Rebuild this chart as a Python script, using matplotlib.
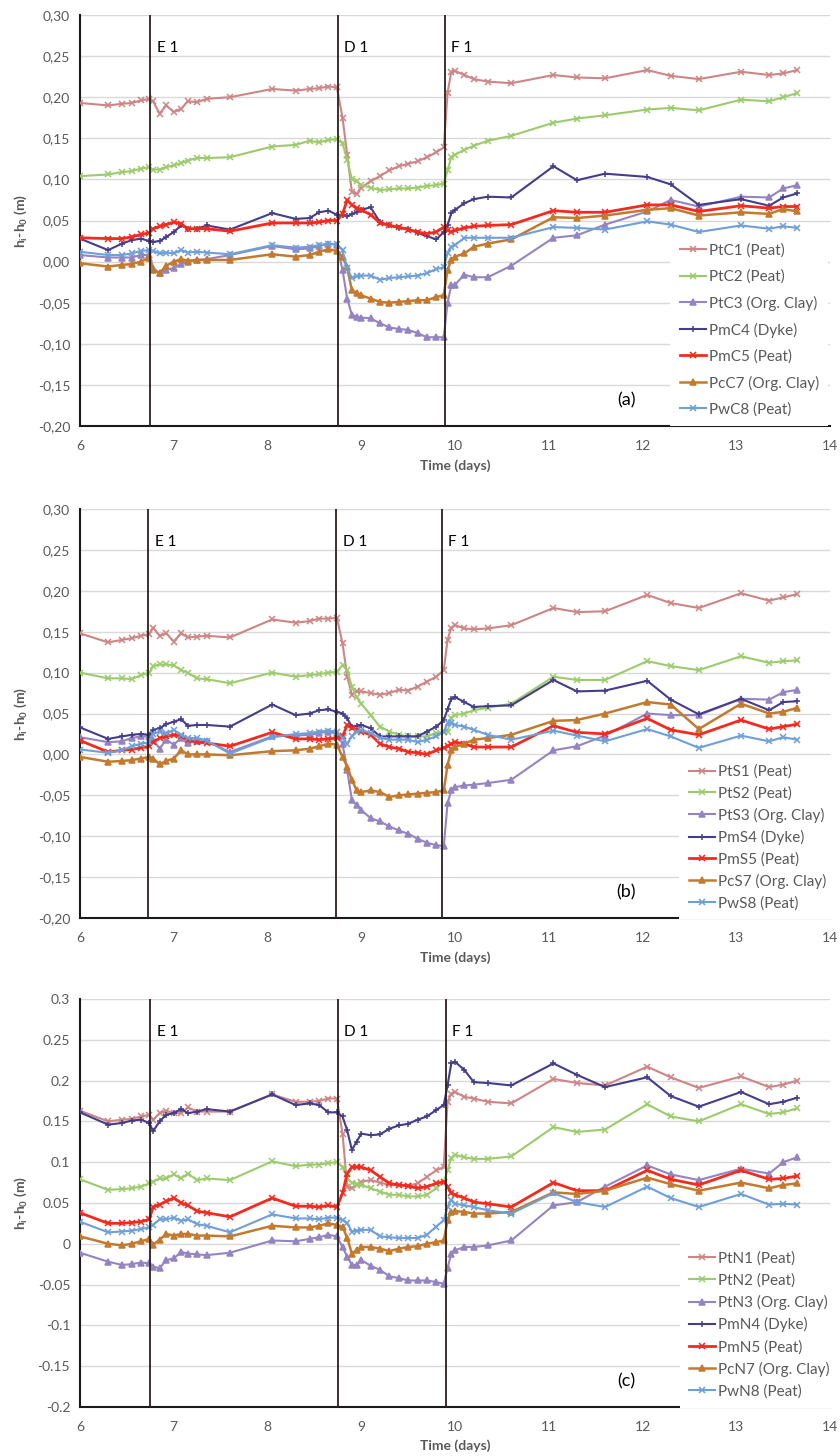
import matplotlib
matplotlib.use("Agg")
import matplotlib.pyplot as plt
from matplotlib.ticker import FuncFormatter, MultipleLocator

plt.rcParams['font.family'] = ['Lato', 'DejaVu Sans']

# time of each reading (days)
days = [6.0, 6.3, 6.45, 6.55, 6.65, 6.74, 6.78, 6.85, 6.92, 7.0, 7.08, 7.15, 7.25, 7.35, 7.6,
        8.05, 8.3, 8.45, 8.55, 8.65, 8.74, 8.8, 8.85, 8.9, 8.95, 9.0, 9.1, 9.2, 9.3, 9.4, 9.5,
        9.6, 9.7, 9.8, 9.88, 9.92, 9.96, 10.0, 10.1, 10.2, 10.35, 10.6, 11.05, 11.3, 11.6,
        12.05, 12.3, 12.6, 13.05, 13.35, 13.5, 13.65]

# (a)
labels_a = ['PtC1 (Peat)', 'PtC2 (Peat)', 'PtC3 (Org. Clay)', 'PmC4 (Dyke)',
            'PmC5 (Peat)', 'PcC7 (Org. Clay)', 'PwC8 (Peat)']
ptc1 = [0.193, 0.190, 0.192, 0.193, 0.196, 0.198, 0.195, 0.180, 0.190, 0.182, 0.186, 0.195, 0.194,
        0.198, 0.200, 0.210, 0.208, 0.210, 0.211, 0.213, 0.212, 0.175, 0.130, 0.085, 0.082, 0.090,
        0.098, 0.104, 0.111, 0.116, 0.119, 0.122, 0.127, 0.133, 0.139, 0.205, 0.231, 0.232, 0.227,
        0.222, 0.219, 0.217, 0.227, 0.224, 0.223, 0.233, 0.226, 0.222, 0.231, 0.227, 0.229, 0.233]
ptc2 = [0.104, 0.106, 0.109, 0.110, 0.113, 0.115, 0.112, 0.112, 0.115, 0.117, 0.120, 0.123, 0.126,
        0.126, 0.127, 0.140, 0.142, 0.147, 0.145, 0.148, 0.149, 0.144, 0.124, 0.100, 0.098, 0.093,
        0.090, 0.087, 0.088, 0.089, 0.089, 0.090, 0.092, 0.093, 0.095, 0.111, 0.127, 0.130, 0.136,
        0.141, 0.147, 0.153, 0.169, 0.174, 0.178, 0.185, 0.187, 0.184, 0.197, 0.195, 0.200, 0.205]
ptc3 = [0.008, 0.005, 0.005, 0.005, 0.008, 0.008, -0.008, -0.014, -0.010, -0.008, -0.003, 0.000,
        0.002, 0.003, 0.008, 0.019, 0.015, 0.016, 0.019, 0.022, 0.020, -0.010, -0.045, -0.065,
        -0.067, -0.068, -0.069, -0.075, -0.080, -0.082, -0.083, -0.087, -0.092, -0.092, -0.092,
        -0.050, -0.029, -0.028, -0.016, -0.019, -0.019, -0.005, 0.029, 0.032, 0.045, 0.061, 0.075,
        0.067, 0.079, 0.078, 0.089, 0.093]
pmc4 = [0.028, 0.014, 0.022, 0.026, 0.028, 0.025, 0.024, 0.025, 0.030, 0.036, 0.044, 0.040, 0.040,
        0.044, 0.039, 0.059, 0.052, 0.053, 0.060, 0.062, 0.057, 0.057, 0.055, 0.058, 0.060, 0.063,
        0.066, 0.048, 0.044, 0.041, 0.040, 0.035, 0.031, 0.027, 0.036, 0.044, 0.059, 0.063, 0.071,
        0.076, 0.079, 0.078, 0.116, 0.099, 0.107, 0.103, 0.094, 0.069, 0.076, 0.068, 0.078, 0.083]
pmc5 = [0.029, 0.028, 0.028, 0.030, 0.033, 0.035, 0.040, 0.043, 0.045, 0.048, 0.046, 0.040, 0.040,
        0.040, 0.037, 0.047, 0.047, 0.047, 0.048, 0.050, 0.050, 0.058, 0.075, 0.069, 0.065, 0.063,
        0.057, 0.047, 0.044, 0.042, 0.039, 0.036, 0.034, 0.036, 0.042, 0.038, 0.036, 0.038, 0.041,
        0.043, 0.044, 0.045, 0.062, 0.060, 0.060, 0.069, 0.069, 0.061, 0.068, 0.065, 0.067, 0.067]
pcc7 = [-0.002, -0.006, -0.004, -0.003, 0.000, 0.005, -0.010, -0.014, -0.005, 0.000, 0.003, 0.001,
        0.002, 0.002, 0.002, 0.009, 0.006, 0.008, 0.012, 0.015, 0.013, 0.006, -0.007, -0.035,
        -0.038, -0.041, -0.045, -0.049, -0.050, -0.049, -0.048, -0.047, -0.047, -0.043, -0.041,
        -0.010, 0.002, 0.006, 0.010, 0.018, 0.022, 0.027, 0.054, 0.053, 0.056, 0.063, 0.065, 0.056,
        0.060, 0.058, 0.064, 0.061]
pwc8 = [0.012, 0.008, 0.008, 0.010, 0.013, 0.014, 0.013, 0.010, 0.011, 0.010, 0.014, 0.011, 0.012,
        0.011, 0.009, 0.020, 0.017, 0.018, 0.020, 0.022, 0.021, 0.014, -0.008, -0.020, -0.018,
        -0.017, -0.017, -0.022, -0.020, -0.019, -0.018, -0.017, -0.014, -0.009, -0.007, 0.010,
        0.018, 0.020, 0.029, 0.029, 0.029, 0.029, 0.042, 0.041, 0.039, 0.049, 0.045, 0.036, 0.044,
        0.040, 0.043, 0.041]

# (b)
labels_b = ['PtS1 (Peat)', 'PtS2 (Peat)', 'PtS3 (Org. Clay)', 'PmS4 (Dyke)',
            'PmS5 (Peat)', 'PcS7 (Org. Clay)', 'PwS8 (Peat)']
pts1 = [0.148, 0.137, 0.140, 0.142, 0.145, 0.147, 0.155, 0.145, 0.148, 0.138, 0.148, 0.143, 0.144,
        0.145, 0.143, 0.165, 0.161, 0.163, 0.166, 0.166, 0.167, 0.136, 0.095, 0.073, 0.077, 0.077,
        0.075, 0.073, 0.075, 0.079, 0.078, 0.083, 0.089, 0.095, 0.103, 0.140, 0.155, 0.158, 0.154,
        0.153, 0.154, 0.158, 0.179, 0.174, 0.175, 0.195, 0.185, 0.179, 0.197, 0.188, 0.192, 0.196]
pts2 = [0.100, 0.093, 0.093, 0.092, 0.097, 0.100, 0.108, 0.110, 0.110, 0.109, 0.103, 0.100, 0.093,
        0.092, 0.087, 0.100, 0.095, 0.097, 0.098, 0.100, 0.101, 0.109, 0.103, 0.083, 0.070, 0.062,
        0.048, 0.034, 0.028, 0.024, 0.022, 0.022, 0.022, 0.026, 0.028, 0.028, 0.045, 0.048, 0.050,
        0.054, 0.057, 0.062, 0.095, 0.091, 0.091, 0.114, 0.108, 0.103, 0.120, 0.112, 0.114, 0.115]
pts3 = [0.021, 0.015, 0.016, 0.020, 0.022, 0.022, 0.018, 0.007, 0.018, 0.012, 0.020, 0.014, 0.016,
        0.016, 0.003, 0.022, 0.023, 0.024, 0.026, 0.028, 0.025, 0.013, -0.019, -0.056, -0.062,
        -0.068, -0.078, -0.082, -0.088, -0.093, -0.097, -0.103, -0.108, -0.111, -0.112, -0.060,
        -0.044, -0.040, -0.038, -0.037, -0.035, -0.031, 0.005, 0.010, 0.023, 0.050, 0.048, 0.048,
        0.068, 0.067, 0.076, 0.079]
pms4 = [0.033, 0.019, 0.022, 0.024, 0.025, 0.024, 0.030, 0.032, 0.037, 0.040, 0.043, 0.035, 0.036,
        0.036, 0.034, 0.061, 0.048, 0.050, 0.054, 0.055, 0.052, 0.050, 0.044, 0.034, 0.035, 0.036,
        0.032, 0.022, 0.022, 0.022, 0.022, 0.022, 0.028, 0.034, 0.042, 0.055, 0.068, 0.070, 0.064,
        0.058, 0.059, 0.060, 0.091, 0.077, 0.078, 0.090, 0.067, 0.049, 0.068, 0.054, 0.064, 0.065]
pms5 = [0.017, 0.003, 0.005, 0.006, 0.008, 0.010, 0.015, 0.020, 0.022, 0.024, 0.022, 0.018, 0.015,
        0.014, 0.010, 0.027, 0.019, 0.019, 0.018, 0.019, 0.020, 0.022, 0.036, 0.032, 0.030, 0.028,
        0.024, 0.013, 0.009, 0.007, 0.003, 0.002, 0.000, 0.005, 0.008, 0.010, 0.013, 0.015, 0.013,
        0.009, 0.009, 0.009, 0.035, 0.027, 0.025, 0.044, 0.030, 0.024, 0.042, 0.031, 0.034, 0.037]
pcs7 = [-0.003, -0.009, -0.008, -0.007, -0.005, -0.003, -0.005, -0.012, -0.008, -0.005, 0.005,
        0.000, 0.000, 0.000, -0.001, 0.004, 0.005, 0.007, 0.010, 0.013, 0.012, -0.003, -0.015,
        -0.031, -0.044, -0.046, -0.044, -0.046, -0.052, -0.050, -0.049, -0.048, -0.047, -0.046,
        -0.044, -0.013, 0.005, 0.009, 0.013, 0.018, 0.020, 0.024, 0.041, 0.042, 0.050, 0.064, 0.061,
        0.031, 0.062, 0.050, 0.052, 0.057]
pws8 = [0.006, 0.002, 0.005, 0.010, 0.013, 0.015, 0.025, 0.028, 0.026, 0.030, 0.024, 0.020, 0.020,
        0.017, 0.001, 0.021, 0.025, 0.026, 0.028, 0.029, 0.028, 0.020, 0.013, 0.022, 0.028, 0.030,
        0.026, 0.020, 0.018, 0.018, 0.018, 0.015, 0.018, 0.022, 0.028, 0.038, 0.038, 0.036, 0.034,
        0.030, 0.024, 0.018, 0.029, 0.023, 0.016, 0.031, 0.022, 0.008, 0.023, 0.016, 0.021, 0.018]

# (c)
labels_c = ['PtN1 (Peat)', 'PtN2 (Peat)', 'PtN3 (Org. Clay)', 'PmN4 (Dyke)',
            'PmN5 (Peat)', 'PcN7 (Org. Clay)', 'PwN8 (Peat)']
ptn1 = [0.163, 0.150, 0.152, 0.153, 0.156, 0.158, 0.152, 0.160, 0.163, 0.160, 0.160, 0.167, 0.162,
        0.162, 0.162, 0.183, 0.174, 0.174, 0.175, 0.178, 0.178, 0.135, 0.070, 0.068, 0.072, 0.076,
        0.078, 0.075, 0.072, 0.072, 0.071, 0.074, 0.082, 0.090, 0.094, 0.174, 0.184, 0.186, 0.180,
        0.178, 0.174, 0.172, 0.202, 0.197, 0.194, 0.217, 0.204, 0.191, 0.205, 0.192, 0.195, 0.200]
ptn2 = [0.079, 0.066, 0.067, 0.068, 0.070, 0.074, 0.076, 0.080, 0.080, 0.085, 0.080, 0.086, 0.078,
        0.080, 0.078, 0.101, 0.095, 0.097, 0.097, 0.099, 0.100, 0.094, 0.080, 0.075, 0.073, 0.072,
        0.068, 0.064, 0.060, 0.060, 0.058, 0.058, 0.060, 0.068, 0.076, 0.090, 0.105, 0.109, 0.106,
        0.104, 0.104, 0.107, 0.143, 0.137, 0.140, 0.171, 0.156, 0.150, 0.171, 0.159, 0.161, 0.166]
ptn3 = [-0.011, -0.022, -0.026, -0.025, -0.023, -0.024, -0.028, -0.030, -0.020, -0.018, -0.010,
        -0.012, -0.013, -0.014, -0.011, 0.004, 0.003, 0.006, 0.008, 0.011, 0.009, -0.004, -0.016,
        -0.026, -0.026, -0.020, -0.027, -0.032, -0.040, -0.042, -0.045, -0.045, -0.045, -0.047,
        -0.049, -0.030, -0.012, -0.008, -0.004, -0.004, -0.002, 0.004, 0.047, 0.051, 0.070, 0.096,
        0.085, 0.078, 0.092, 0.086, 0.100, 0.106]
pmn4 = [0.161, 0.146, 0.148, 0.151, 0.152, 0.148, 0.138, 0.150, 0.158, 0.160, 0.165, 0.160, 0.162,
        0.165, 0.162, 0.183, 0.170, 0.172, 0.170, 0.161, 0.161, 0.156, 0.139, 0.115, 0.125, 0.135,
        0.133, 0.134, 0.141, 0.145, 0.147, 0.152, 0.156, 0.164, 0.170, 0.194, 0.221, 0.223, 0.213,
        0.198, 0.197, 0.194, 0.221, 0.207, 0.192, 0.204, 0.181, 0.168, 0.186, 0.171, 0.174, 0.179]
pmn5 = [0.038, 0.025, 0.025, 0.026, 0.027, 0.030, 0.045, 0.048, 0.052, 0.056, 0.050, 0.047, 0.040,
        0.038, 0.033, 0.056, 0.046, 0.046, 0.045, 0.047, 0.045, 0.062, 0.086, 0.094, 0.094, 0.094,
        0.090, 0.082, 0.074, 0.072, 0.071, 0.068, 0.070, 0.074, 0.076, 0.070, 0.062, 0.060, 0.056,
        0.051, 0.049, 0.045, 0.075, 0.065, 0.065, 0.090, 0.079, 0.072, 0.090, 0.079, 0.080, 0.083]
pcn7 = [0.009, 0.000, -0.002, 0.000, 0.003, 0.006, -0.001, 0.005, 0.012, 0.010, 0.012, 0.012, 0.010,
        0.010, 0.009, 0.022, 0.020, 0.020, 0.022, 0.025, 0.023, 0.021, 0.007, -0.012, -0.008,
        -0.004, -0.004, -0.006, -0.009, -0.006, -0.004, -0.003, 0.000, 0.002, 0.004, 0.029, 0.039,
        0.040, 0.039, 0.037, 0.037, 0.039, 0.063, 0.061, 0.065, 0.081, 0.073, 0.065, 0.075, 0.068,
        0.072, 0.074]
pwn8 = [0.027, 0.014, 0.015, 0.016, 0.018, 0.020, 0.023, 0.030, 0.030, 0.032, 0.028, 0.030, 0.024,
        0.022, 0.014, 0.036, 0.031, 0.031, 0.030, 0.032, 0.032, 0.029, 0.025, 0.015, 0.016, 0.017,
        0.017, 0.009, 0.008, 0.007, 0.007, 0.007, 0.011, 0.021, 0.029, 0.045, 0.054, 0.049, 0.047,
        0.045, 0.041, 0.037, 0.062, 0.051, 0.045, 0.070, 0.056, 0.045, 0.061, 0.048, 0.049, 0.048]

event_names = ['E 1', 'D 1', 'F 1']
events_a = [6.75, 8.75, 9.89]
events_b = [6.73, 8.73, 9.86]
events_c = [6.75, 8.75, 9.9]

colors = ['#cd8585', '#9ccb6c', '#9484c2', '#433d8c', '#f42a1e', '#c47a2e', '#6e9fd9']
markers = ['x', 'x', '^', '+', 'x', '^', 'x']
widths = [1.5, 1.5, 1.5, 1.5, 2.0, 1.8, 1.5]
grey = '#595959'

panels = [
    ([ptc1, ptc2, ptc3, pmc4, pmc5, pcc7, pwc8], labels_a, events_a, '(a)', True,
     [0.0952, 0.7074, 0.893, 0.2823], (0.777, 0.485), 0.77),
    ([pts1, pts2, pts3, pms4, pms5, pcs7, pws8], labels_b, events_b, '(b)', True,
     [0.0952, 0.3695, 0.893, 0.2809], (0.789, 0.416), 0.47),
    ([ptn1, ptn2, ptn3, pmn4, pmn5, pcn7, pwn8], labels_c, events_c, '(c)', False,
     [0.0952, 0.0337, 0.893, 0.2802], (0.79, 0.423), 0.49),
]


def comma_fmt(v, pos):
    return f"{v:.2f}".replace('.', ',')


def dot_fmt(v, pos):
    return f"{round(v, 2) + 0.0:g}"


fig = plt.figure(figsize=(8.4, 14.56), dpi=100)

for series, labels, events, tag, comma, pos, anchor, spacing in panels:
    ax = fig.add_axes(pos)
    for vals, lab, c, m, w in zip(series, labels, colors, markers, widths):
        ax.plot(days, vals, color=c, lw=w, marker=m, ms=5, mew=1.1, label=lab, zorder=3)

    for name, d in zip(event_names, events):
        ax.axvline(d, color='#2b201c', lw=1.3, zorder=4)
        ax.text(d + 0.07, 0.26, name, fontsize=11, color='black', va='center', ha='left')

    ax.set_xlim(6, 14)
    ax.set_ylim(-0.2, 0.3)
    ax.xaxis.set_major_locator(MultipleLocator(1))
    ax.yaxis.set_major_locator(MultipleLocator(0.05))
    ax.yaxis.set_major_formatter(FuncFormatter(comma_fmt if comma else dot_fmt))
    ax.grid(axis='y', color='#d9d9d9', lw=1)
    ax.set_axisbelow(True)
    for s in ['top', 'right']:
        ax.spines[s].set_visible(False)
    for s in ['left', 'bottom']:
        ax.spines[s].set_color('#1a1a1a')
        ax.spines[s].set_linewidth(1.5)
    ax.tick_params(length=0, labelsize=10, labelcolor=grey)
    ax.tick_params(axis='x', pad=10)
    ax.tick_params(axis='y', pad=7)

    ax.set_xlabel('Time (days)', fontsize=10, fontweight='bold', color=grey, labelpad=5)
    ax.set_ylabel(r'h$_\mathregular{i}$-h$_\mathregular{0}$ (m)', fontsize=10,
                  fontweight='bold', color=grey, labelpad=6)

    ax.text(0.728, 0.062, tag, transform=ax.transAxes, fontsize=13, color='black',
            ha='center', va='center')

    leg = ax.legend(loc='upper left', bbox_to_anchor=anchor, fontsize=11, frameon=True,
                    facecolor='white', edgecolor='none', framealpha=1, fancybox=False,
                    handlelength=1.7, handletextpad=0.2, labelspacing=spacing,
                    borderpad=0.6, markerscale=0.8)
    for t in leg.get_texts():
        t.set_color(grey)
    leg.set_zorder(5)

fig.savefig('out.png', dpi=100)
